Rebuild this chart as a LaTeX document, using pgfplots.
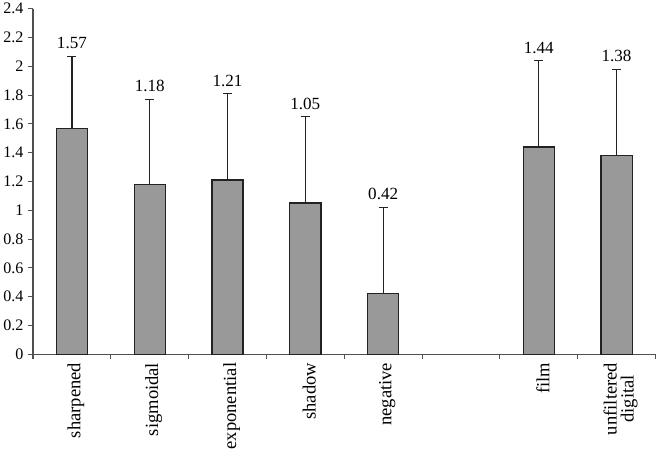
\documentclass[border=0pt]{standalone}
\usepackage{pgfplots}
\pgfplotsset{compat=1.18}
\usepackage{fontspec}
\setmainfont{Liberation Serif}
\definecolor{barfill}{RGB}{153,153,153}
\definecolor{bardraw}{RGB}{34,34,34}
\definecolor{axisgray}{RGB}{80,80,80}
\begin{document}
\begin{tikzpicture}
\begin{axis}[
  scale only axis, width=618bp, height=343bp,
  xmin=-0.5, xmax=7.5, ymin=0, ymax=2.4,
  axis x line*=bottom, axis y line*=left,
  axis line style={-, color=axisgray, line width=1bp},
  ytick={0,0.2,0.4,0.6,0.8,1,1.2,1.4,1.6,1.8,2,2.2,2.4},
  yticklabel={\pgfmathprintnumber[fixed, precision=1, assume math mode=true]{\tick}},
  yticklabel style={font=\fontsize{16}{17}\selectfont, xshift=-1bp},
  xtick={0,1,2,3,4,5,6,7},
  xticklabels={sharpened,sigmoidal,exponential,shadow,negative,{},film,{unfiltered\\digital}},
  x tick label style={rotate=90, anchor=east, align=center, font=\fontsize{18.5}{17}\selectfont, yshift=-4bp},
  major x tick style={draw=none},
  minor xtick={-0.5,0.5,1.5,2.5,3.5,4.5,5.5,6.5,7.5},
  tick align=outside,
  major tick length=5bp, minor tick length=5bp,
  tick style={color=axisgray, line width=1bp},
  clip=false,
]
\addplot[ybar, bar shift=0pt, bar width=0.4, fill=barfill, draw=bardraw, line width=1.3bp,
  error bars/.cd, y dir=plus, y explicit,
  error bar style={line width=1.3bp, color=bardraw},
  error mark options={rotate=90, mark size=4.5bp, line width=1.3bp, color=bardraw}]
coordinates {
  (0,1.57) +- (0,0.50)
  (1,1.18) +- (0,0.59)
  (2,1.21) +- (0,0.60)
  (3,1.05) +- (0,0.60)
  (4,0.42) +- (0,0.60)
  (6,1.44) +- (0,0.60)
  (7,1.38) +- (0,0.60)
};
\addplot[draw=none, mark=none, nodes near coords, point meta=explicit symbolic,
  nodes near coords style={anchor=south, inner sep=0pt, yshift=7bp, font=\fontsize{17}{18}\selectfont, text=black}]
coordinates {
  (0,2.07) [1.57]
  (1,1.77) [1.18]
  (2,1.81) [1.21]
  (3,1.65) [1.05]
  (4,1.02) [0.42]
  (6,2.04) [1.44]
  (7,1.98) [1.38]
};
\end{axis}
\end{tikzpicture}
\end{document}
